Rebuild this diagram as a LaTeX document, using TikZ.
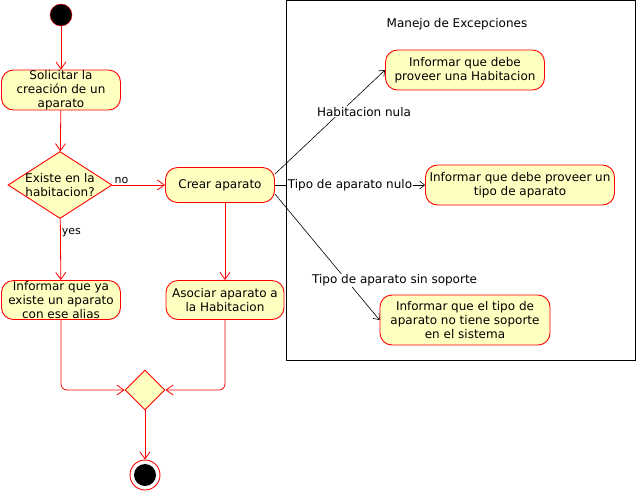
\documentclass[tikz,border=0pt]{standalone}
\usepackage{fontspec}
\setmainfont{DejaVu Sans}
\usetikzlibrary{shapes.geometric,arrows.meta}
\definecolor{umlyellow}{HTML}{FFFFC2}

\begin{document}
\begin{tikzpicture}
[x=1pt,y=-1pt,
  actDecorate/.style={shape=rectangle,rounded corners=12pt,draw=red,line width=0.9pt,fill=umlyellow,%
    align=center,inner sep=0pt,font=\fontsize{12}{14}\selectfont},
  choiceDecorate/.style={shape=diamond,draw=red,line width=0.9pt,fill=umlyellow,inner sep=0pt},
  flowDecorate/.style={draw=red,line width=0.8pt,-{Straight Barb[length=7pt,width=10pt]}},
  excDecorate/.style={draw=black,line width=0.6pt,-{Straight Barb[length=5pt,width=8pt]}},
  excLabel/.style={fill=white,inner sep=1pt,font=\fontsize{12}{14}\selectfont},
  flowLabel/.style={inner sep=1pt,font=\fontsize{11}{13}\selectfont}]
\useasboundingbox (0,0) rectangle (636,491);
%% frame of the exceptions
\draw[black,line width=0.8pt] (286,0.5) rectangle (635,360);
\node (titulo) at (457,24) [font=\fontsize{12}{14}\selectfont] {Manejo de Excepciones};
%% activities
\foreach \nodename/\x/\y/\w/\h/\txt in {
  solicitar/61/90/119/40/{Solicitar la\\creación de un\\aparato},
  crear/220/185/109/35/{Crear aparato},
  informarya/61/300/119/39/{Informar que ya\\existe un aparato\\con ese alias},
  asociar/225/300/118/39/{Asociar aparato a\\la Habitacion},
  habnula/465/70/159/40/{Informar que debe\\proveer una Habitacion},
  tiponulo/520/185/189/40/{Informar que debe proveer un\\tipo de aparato},
  sinsoporte/465/320/170/50/{Informar que el tipo de\\aparato no tiene soporte\\en el sistema}}
{
  \node (\nodename) at (\x,\y) [actDecorate,minimum width=\w,minimum height=\h] {\txt};
}
%% start, choices and end
\node (inicio) at (61,15) [circle,draw=red,fill=black,minimum size=22,inner sep=0pt] {};
\node (existe) at (60,185) [choiceDecorate,minimum width=104,minimum height=67,%
  label={[align=center,font=\fontsize{12}{14}\selectfont]center:Existe en la\\habitacion?}] {};
\node (union) at (145,390) [choiceDecorate,minimum width=40,minimum height=40] {};
\node (fin) at (145,475) [circle,draw=red,line width=0.9pt,fill=white,minimum size=30,inner sep=0pt,%
  path picture={\fill[black] (path picture bounding box.center) circle (11pt);}] {};
%% flow
\draw[flowDecorate] (inicio) -- (solicitar);
\draw[flowDecorate] (solicitar) -- (existe);
\draw[flowDecorate] (existe) -- node[flowLabel,above,pos=0.17] {no} (crear);
\draw[flowDecorate] (existe) -- node[flowLabel,right,pos=0.22] {yes} (informarya);
\draw[flowDecorate] (crear.south -| asociar) -- (asociar);
\draw[flowDecorate,rounded corners=6pt] (informarya) |- (union);
\draw[flowDecorate,rounded corners=6pt] (asociar) |- (union);
\draw[flowDecorate] (union) -- (fin);
%% exceptions
\draw[excDecorate] ([yshift=11pt]crear.east) -- node[excLabel,pos=0.6,xshift=23pt] {Habitacion nula} (habnula.west);
\draw[excDecorate] (crear.east) -- node[excLabel] {Tipo de aparato nulo} (tiponulo.west);
\draw[excDecorate] ([yshift=-9pt]crear.east) -- node[excLabel,pos=0.685,xshift=48pt] {Tipo de aparato sin soporte} (sinsoporte.west);
\end{tikzpicture}
\end{document}
